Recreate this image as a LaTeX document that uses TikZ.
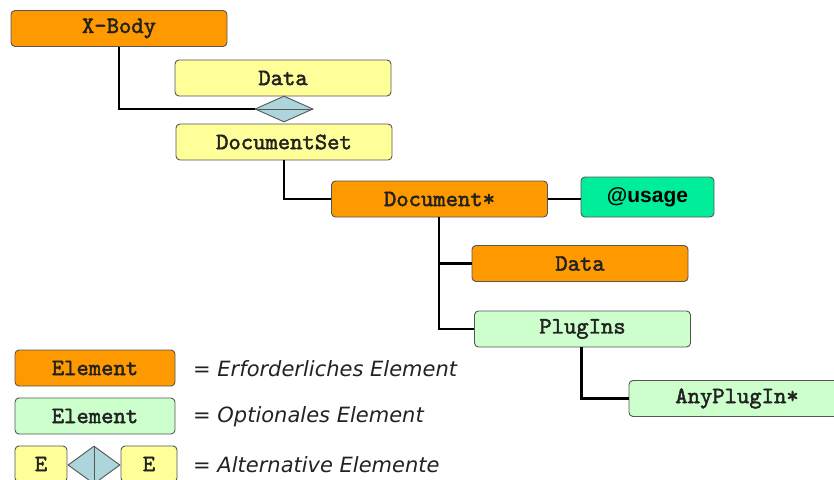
\documentclass[tikz,border=0pt]{standalone}
\usepackage{fontspec}
\setmainfont{DejaVu Sans}
\newfontfamily\monob{lmmono10-regular.otf}[FakeBold=2]
\newfontfamily\arialb{Liberation Sans}
\usetikzlibrary{shapes.geometric}
\definecolor{req}{HTML}{FF9900}
\definecolor{opt}{HTML}{CCFFCC}
\definecolor{alt}{HTML}{FFFF99}
\definecolor{attr}{HTML}{00EE99}
\definecolor{dia}{HTML}{ADD6DC}
\definecolor{bord}{HTML}{555555}
\definecolor{txt}{HTML}{222222}
\tikzset{
  elem/.style={draw=bord, line width=0.9pt, rounded corners=4pt, minimum width=216pt, minimum height=36pt, inner sep=0pt, text=txt, font=\monob\fontsize{23.5}{24}\selectfont},
  reqel/.style={elem, fill=req},
  optel/.style={elem, fill=opt},
  altel/.style={elem, fill=alt},
  attrel/.style={draw=bord, line width=0.9pt, rounded corners=4pt, minimum width=133pt, minimum height=40pt, inner sep=0pt, fill=attr, font=\arialb\bfseries\fontsize{21}{24}\selectfont},
  choice/.style={diamond, draw=bord, line width=0.9pt, fill=dia, inner sep=0pt},
  conn/.style={draw=black, line width=2.2pt},
  legtxt/.style={anchor=west, inner sep=0pt, text=txt, font=\itshape\fontsize{21}{24}\selectfont},
}
\begin{document}
\begin{tikzpicture}[x=1pt,y=-1pt]
\useasboundingbox (0,0) rectangle (834,479);
\clip (0,0) rectangle (834,479);
% connectors first
\coordinate (xb) at (119,46.5);
\coordinate (ds) at (284,160);
\coordinate (dd) at (439,217);
\coordinate (pp) at (581.5,347);
% main tree
\node[reqel] (xbody) at (119,28.5) {X-Body};
\node[altel] (data1) at (283,78) {Data};
\node[choice, minimum width=58pt, minimum height=26pt] (ch) at (284,109) {};
\node[altel] (docset) at (284,142) {DocumentSet};
\node[reqel] (doc) at (439.5,199) {Document*};
\node[attrel] (usage) at (647.5,197) {@usage};
\node[reqel] (data2) at (580,263.5) {Data};
\node[optel] (plug) at (582.5,329) {PlugIns};
\node[optel] (any) at (737,398.5) {AnyPlugIn*};
\draw[draw=bord, line width=0.9pt] (ch.west) -- (ch.east);
\draw[conn] (xb) |- (ch.west);
\draw[conn] (ds) |- (doc.west);
\draw[conn] (doc.east) -- (doc.east -| usage.west);
\draw[conn] (dd) |- (data2.west);
\draw[conn] (dd) |- (plug.west);
\draw[conn] (pp) |- (any.west);
% legend
\node[reqel, minimum width=160pt] (l1) at (95,368) {Element};
\node[legtxt] (t1) at (193,369) {= Erforderliches Element};
\node[optel, minimum width=160pt] (l2) at (95,416) {Element};
\node[legtxt] (t2) at (193,417) {= Optionales Element};
\node[altel, minimum width=52pt] (l3a) at (41,464) {E};
\node[choice, minimum width=52pt, minimum height=38pt] (l3d) at (94,465) {};
\draw[draw=bord, line width=0.9pt] (l3d.north) -- (l3d.south);
\node[altel, minimum width=56pt] (l3b) at (149,464) {E};
\node[legtxt] (t3) at (193,465) {= Alternative Elemente};
\end{tikzpicture}
\end{document}
